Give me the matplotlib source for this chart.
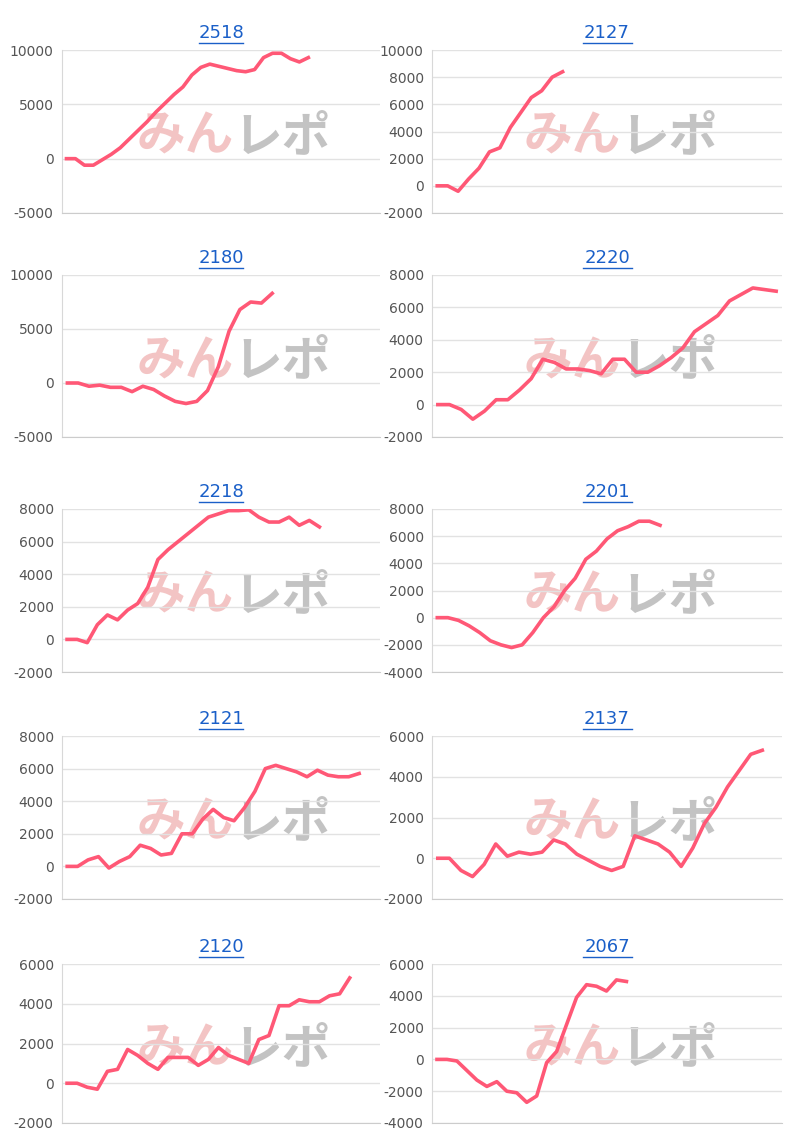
import matplotlib.pyplot as plt
from matplotlib.ticker import MultipleLocator
plt.rcParams['axes.unicode_minus'] = False

titles = ["2518", "2127", "2180", "2220", "2218", "2201", "2121", "2137", "2120", "2067"]
s2518 = [0,0,-600,-600,-100,400,1000,1800,2600,3400,4300,5100,5900,6600,7700,8400,8700,8500,8300,8100,8000,8200,9300,9700,9700,9200,8900,9300]
s2127 = [0,0,-400,500,1300,2500,2800,4300,5400,6500,7000,8000,8400]
s2180 = [0,0,-300,-200,-400,-400,-800,-300,-600,-1200,-1700,-1900,-1700,-700,1500,4800,6800,7500,7400,8300]
s2220 = [0,0,-300,-900,-400,300,300,900,1600,2800,2600,2200,2200,2100,1900,2800,2800,2000,2000,2400,2900,3500,4500,5000,5500,6400,6800,7200,7100,7000]
s2218 = [0,0,-200,900,1500,1200,1800,2200,3200,4900,5500,6000,6500,7000,7500,7700,7900,7900,7950,7500,7200,7200,7500,7000,7300,6900]
s2201 = [0,0,-200,-600,-1100,-1700,-2000,-2200,-2000,-1100,0,800,2000,2900,4300,4900,5800,6400,6700,7100,7100,6800]
s2121 = [0,0,400,600,-100,300,600,1300,1100,700,800,2000,2000,2900,3500,3000,2800,3600,4600,6000,6200,6000,5800,5500,5900,5600,5500,5500,5700]
s2137 = [0,0,-600,-900,-300,700,100,300,200,300,900,700,200,-100,-400,-600,-400,1100,900,700,300,-400,500,1700,2500,3500,4300,5100,5300]
s2120 = [0,0,-200,-300,600,700,1700,1400,1000,700,1300,1300,1300,900,1200,1800,1400,1200,1000,2200,2400,3900,3900,4200,4100,4100,4400,4500,5300]
s2067 = [0,0,-100,-700,-1300,-1700,-1400,-2000,-2100,-2700,-2300,-200,500,2200,3900,4700,4600,4300,5000,4900]
series = [s2518, s2127, s2180, s2220, s2218, s2201, s2121, s2137, s2120, s2067]
ylims = [(-5000,10000,5000),(-2000,10000,2000),(-5000,10000,5000),(-2000,8000,2000),(-2000,8000,2000),
         (-4000,8000,2000),(-2000,8000,2000),(-2000,6000,2000),(-2000,6000,2000),(-4000,6000,2000)]
xmax = [35, 33, 29, 29.5, 31, 32.5, 30, 29.7, 31, 34.6]

W, H = 800, 1143
fig = plt.figure(figsize=(8, 11.43), dpi=100)
tops = [50, 275, 509, 736, 964]
heights = [163, 162, 163, 163, 159]
lefts = [(62, 380), (432, 782)]
for i, (t, s) in enumerate(zip(titles, series)):
    r, c = divmod(i, 2)
    x0, x1 = lefts[c]
    ax = fig.add_axes([x0/W, 1-(tops[r]+heights[r])/H, (x1-x0)/W, heights[r]/H])
    lo, hi, st = ylims[i]
    ax.plot(range(len(s)), s, color='#ff5876', lw=2.6, solid_joinstyle='round', zorder=3)
    ax.set_ylim(lo, hi)
    ax.set_xlim(-0.5, xmax[i])
    ax.yaxis.set_major_locator(MultipleLocator(st))
    ax.grid(axis='y', color='#e2e2e2', lw=1)
    ax.set_xticks([])
    for sp in ['top', 'right']:
        ax.spines[sp].set_visible(False)
    ax.spines['left'].set_color('#d8d8d8')
    ax.spines['bottom'].set_color('#cccccc')
    ax.tick_params(axis='y', length=0, labelsize=10, colors='#555555', pad=6)
    ax.text(0.5, 1.05, t, transform=ax.transAxes, ha='center', va='bottom',
            color='#1a5fc8', fontsize=13)
    ax.plot([0.43, 0.57], [1.045, 1.045], transform=ax.transAxes, color='#1a5fc8', lw=1, clip_on=False)
    ax.text(0.54, 0.47, 'みん', transform=ax.transAxes, ha='right', va='center', fontsize=35,
            fontweight='bold', style='italic', color='#e88a8a', alpha=0.5, family=['Noto Sans CJK JP'], zorder=1)
    ax.text(0.54, 0.47, 'レポ', transform=ax.transAxes, ha='left', va='center', fontsize=35,
            fontweight='bold', style='italic', color='#888888', alpha=0.5, family=['Noto Sans CJK JP'], zorder=1)

fig.savefig('out.png', dpi=100)
